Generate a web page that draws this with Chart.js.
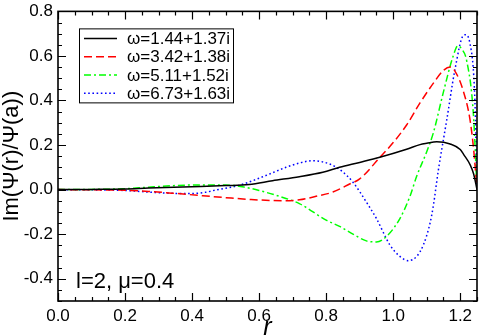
<!DOCTYPE html>
<html><head><meta charset="utf-8">
<script src="https://cdn.jsdelivr.net/npm/chart.js@4.4.0/dist/chart.umd.min.js"></script>
<style>html,body{margin:0;padding:0;background:#fff}#wrap{width:480px;height:336px;position:relative}</style>
</head><body><div id="wrap"><canvas id="c"></canvas></div>
<script>
// ---- data ----
const seriesLabels = ['ω=1.44+1.37i', 'ω=3.42+1.38i', 'ω=5.11+1.52i', 'ω=6.73+1.63i'];

const rBlack  = [0, 0.1, 0.2, 0.27, 0.4, 0.5, 0.57, 0.64, 0.72, 0.79, 0.84, 0.9, 0.96, 1.04, 1.08, 1.1, 1.13, 1.17, 1.2, 1.21, 1.23, 1.24, 1.25];
const imBlack = [0, 0.001, 0.003, 0.007, 0.013, 0.018, 0.023, 0.04, 0.058, 0.078, 0.1, 0.122, 0.145, 0.181, 0.202, 0.208, 0.215, 0.205, 0.18, 0.158, 0.11, 0.07, 0];

const rRed  = [0, 0.1, 0.2, 0.27, 0.35, 0.42, 0.5, 0.57, 0.67, 0.72, 0.77, 0.82, 0.87, 0.9, 0.96, 1.0, 1.04, 1.08, 1.12, 1.15, 1.17, 1.185, 1.208, 1.229, 1.24, 1.25];
const imRed = [0, -0.001, -0.003, -0.008, -0.017, -0.026, -0.036, -0.044, -0.05, -0.046, -0.03, -0.011, 0.025, 0.048, 0.144, 0.211, 0.29, 0.389, 0.478, 0.535, 0.55, 0.53, 0.448, 0.315, 0.18, 0];

const rGreen  = [0, 0.1, 0.2, 0.27, 0.35, 0.42, 0.52, 0.56, 0.6, 0.66, 0.72, 0.8, 0.84, 0.88, 0.92, 0.95, 0.98, 1.02, 1.05, 1.07, 1.1, 1.12, 1.149, 1.179, 1.193, 1.205, 1.219, 1.239, 1.25];
const imGreen = [0, 0.001, 0.004, 0.011, 0.018, 0.021, 0.019, 0.01, -0.004, -0.03, -0.063, -0.137, -0.165, -0.2, -0.23, -0.235, -0.21, -0.13, -0.03, 0.06, 0.17, 0.256, 0.433, 0.6, 0.645, 0.63, 0.58, 0.344, 0];

const rBlue  = [0, 0.1, 0.2, 0.27, 0.33, 0.39, 0.44, 0.47, 0.54, 0.62, 0.68, 0.72, 0.76, 0.81, 0.845, 0.88, 0.92, 0.95, 0.99, 1.02, 1.045, 1.07, 1.09, 1.11, 1.12, 1.134, 1.16, 1.184, 1.209, 1.215, 1.229, 1.244, 1.25];
const imBlue = [0, -0.001, -0.004, -0.011, -0.016, -0.018, -0.012, -0.002, 0.019, 0.063, 0.1, 0.119, 0.13, 0.115, 0.085, 0.033, -0.056, -0.13, -0.248, -0.3, -0.319, -0.3, -0.248, -0.15, -0.07, 0.08, 0.315, 0.537, 0.692, 0.695, 0.656, 0.389, 0];

const xTickStep = 0.2, yTickStep = 0.2;
const annotationText = 'l=2, μ=0.4';
const yTitle = 'Im(Ψ(r)/Ψ(a))';
const xTitle = 'r';

// ---- build ----
const pts = (rs, vs) => rs.map((r, i) => ({x: r, y: vs[i]}));
const styles = [
  {color: '#000000', dash: []},
  {color: '#ff0000', dash: [8, 4]},
  {color: '#00ff00', dash: [7, 3, 2, 3]},
  {color: '#0000ff', dash: [1.6, 2.6]}
];
const seriesData = [pts(rBlack, imBlack), pts(rRed, imRed), pts(rGreen, imGreen), pts(rBlue, imBlue)];
const datasets = seriesData.map((d, i) => ({
  label: seriesLabels[i], data: d, borderColor: styles[i].color, borderDash: styles[i].dash,
  borderWidth: 1.5, pointRadius: 0, fill: false, cubicInterpolationMode: 'monotone'
}));

const FONT = "'Liberation Sans', Arial, Helvetica, sans-serif";

const frameTicks = {
  id: 'frameTicks',
  afterDatasetsDraw(chart) {
    const {ctx, chartArea: a, scales: {x, y}} = chart;
    ctx.save();
    ctx.strokeStyle = '#000'; ctx.lineWidth = 1.2; ctx.setLineDash([]);
    ctx.beginPath();
    for (let i = 0; i <= 25; i++) {
      const px = Math.round(x.getPixelForValue(i * 0.05)) + 0.5;
      const len = (i % 4 === 0) ? 8 : 4;
      ctx.moveTo(px, a.bottom); ctx.lineTo(px, a.bottom - len);
      ctx.moveTo(px, a.top); ctx.lineTo(px, a.top + len);
    }
    for (let i = -10; i <= 16; i++) {
      const py = Math.round(y.getPixelForValue(i * 0.05)) + 0.5;
      const len = (i % 4 === 0) ? 8 : 4;
      ctx.moveTo(a.left, py); ctx.lineTo(a.left + len, py);
      ctx.moveTo(a.right, py); ctx.lineTo(a.right - len, py);
    }
    ctx.stroke();
    ctx.lineWidth = 1.6;
    ctx.strokeRect(a.left, a.top, a.right - a.left, a.bottom - a.top);
    ctx.restore();
  },
  afterDraw(chart) {
    const {ctx, chartArea: a} = chart;
    ctx.save();
    // legend box
    const bx = a.left + 21, by = a.top + 17, bw = 154, bh = 74;
    ctx.fillStyle = '#fff'; ctx.fillRect(bx, by, bw, bh);
    ctx.strokeStyle = '#000'; ctx.lineWidth = 1; ctx.setLineDash([]);
    ctx.strokeRect(bx + 0.5, by + 0.5, bw, bh);
    ctx.font = '17px ' + FONT; ctx.textBaseline = 'middle'; ctx.textAlign = 'left';
    datasets.forEach((ds, i) => {
      const yy = by + 10 + i * 18.3;
      ctx.strokeStyle = ds.borderColor; ctx.lineWidth = 1.5; ctx.setLineDash(ds.borderDash);
      ctx.beginPath(); ctx.moveTo(bx + 5, yy); ctx.lineTo(bx + 38, yy); ctx.stroke();
      ctx.fillStyle = '#000'; ctx.fillText(ds.label, bx + 48, yy + 1);
    });
    ctx.setLineDash([]);
    ctx.font = '22px ' + FONT; ctx.fillStyle = '#000';
    ctx.fillText(annotationText, a.left + 18, a.top + 271);
    ctx.restore();
  }
};

const fmt = v => (Math.abs(v) < 1e-9 ? 0 : v).toFixed(1);

new Chart(document.getElementById('c'), {
  type: 'line',
  data: {datasets},
  plugins: [frameTicks],
  options: {
    responsive: true, maintainAspectRatio: false, devicePixelRatio: 1, animation: false,
    layout: {padding: {top: 7, right: 3, left: 0, bottom: 0}},
    plugins: {legend: {display: false}, tooltip: {enabled: false}},
    scales: {
      x: {
        type: 'linear', min: 0, max: 1.25,
        grid: {display: false, drawTicks: false}, border: {display: false},
        ticks: {stepSize: xTickStep, includeBounds: false, maxRotation: 0, padding: 5, color: '#000',
                font: {size: 17, family: FONT, lineHeight: 1.2}, callback: v => fmt(v)},
        title: {display: true, text: xTitle, color: '#000', padding: {top: 0, bottom: 0},
                font: {size: 25, family: FONT, style: 'italic', lineHeight: 0.6}},
        afterFit: s => { s.height = 35; }
      },
      y: {
        type: 'linear', min: -0.5, max: 0.8,
        grid: {display: false, drawTicks: false}, border: {display: false},
        ticks: {stepSize: yTickStep, includeBounds: false, padding: 5, color: '#000',
                font: {size: 17, family: FONT, lineHeight: 0.75}, callback: v => fmt(v)},
        title: {display: true, text: yTitle, color: '#000', padding: {top: 1, bottom: 0},
                font: {size: 22, family: FONT, lineHeight: 1}},
        afterFit: s => { s.width = 58; }
      }
    }
  }
});
</script>
</body></html>
